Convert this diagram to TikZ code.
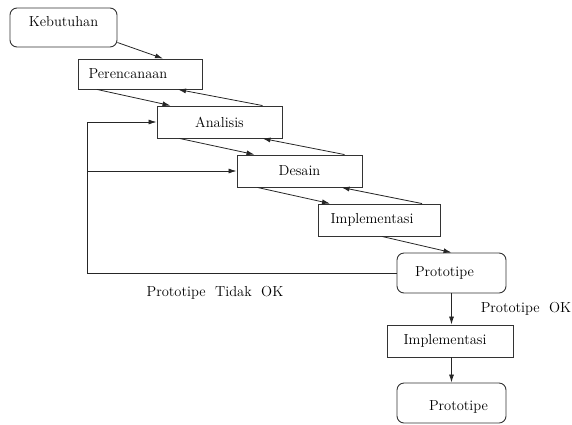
\documentclass[tikz,border=0pt]{standalone}
\usepackage{tikz}
\usepackage{xcolor}
\usetikzlibrary{shapes.geometric, arrows.meta}
\tikzstyle{every node}=[font=\fontsize{14.5}{17}\selectfont]
\tikzstyle{block} = [rectangle, draw=black!80, line width=0.9pt, fill=white, text centered, minimum height=32pt, inner sep=2pt]
\tikzstyle{rblock} = [block, rounded corners=7pt, minimum height=40pt]
\tikzstyle{line} = [draw, black!85, line width=0.8pt, -{Latex[length=8pt,width=5pt]}]

\begin{document}
\begin{tikzpicture}[x=1pt,y=-1pt]
    \useasboundingbox (0,0) rectangle (572,424);
    % Place nodes
    \node [rblock, minimum width=107pt, minimum height=39pt, text depth=13pt] (keb) at (63.5,27.5) {Kebutuhan};
    \node [block, minimum width=124pt, minimum height=30pt] (pere) at (140,74) {\hspace*{-24pt}Perencanaan};
    \node [block, minimum width=125pt] (ana) at (219.5,122) {Analisis};
    \node [block, minimum width=125pt] (des) at (299.5,171) {Desain};
    \node [block, minimum width=122pt] (imp) at (379,220) {\hspace*{-14pt}Implementasi};
    \node [rblock, minimum width=109pt] (proto) at (451.5,273) {\hspace*{-14pt}Prototipe};
    \node [block, minimum width=126pt] (imp2) at (450,341) {\hspace*{-10pt}Implementasi};
    \node [rblock, minimum width=109pt, text height=17pt] (proto2) at (451.5,403) {\hspace*{14pt}Prototipe};
    \coordinate (back) at (87,273);
    % Labels
    \node (tdk) at (215,293) {Prototipe \ Tidak \ OK};
    \node (ok) at (526,309) {Prototipe \ OK};
    % Draw edges
    \path [line] ([yshift=-15pt]keb.east) -- ([xshift=23pt]pere.north);
    \path [line] ([xshift=-43pt]pere.south) -- ([xshift=-49pt]ana.north);
    \path [line] ([xshift=43pt]ana.north) -- ([xshift=38pt]pere.south);
    \path [line] ([xshift=-40pt]ana.south) -- ([xshift=-45pt]des.north);
    \path [line] ([xshift=45pt]des.north) -- ([xshift=43pt]ana.south);
    \path [line] ([xshift=-42pt]des.south) -- ([xshift=-49pt]imp.north);
    \path [line] ([xshift=43pt]imp.north) -- ([xshift=42pt]des.south);
    \path [line] ([xshift=3pt]imp.south) -- (proto.north);
    \path [line] (proto.west) -- (back) |- (ana.west);
    \path [line] (back |- des.west) -- (des.west);
    \path [line] (proto.south) -- (proto.south |- imp2.north);
    \path [line] (imp2.south -| proto2.north) -- (proto2.north);
\end{tikzpicture}
\end{document}
